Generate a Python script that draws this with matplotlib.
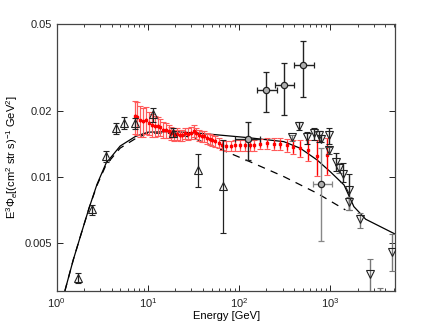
import matplotlib
matplotlib.use('Agg')
import matplotlib.pyplot as plt
import numpy as np
from matplotlib.ticker import FixedLocator, FixedFormatter, LogLocator, NullFormatter

plt.rcParams['font.family'] = ['Liberation Sans', 'DejaVu Sans']
plt.rcParams['mathtext.fontset'] = 'custom'
plt.rcParams['mathtext.rm'] = 'Liberation Sans'
plt.rcParams['mathtext.it'] = 'Liberation Sans:italic'
plt.rcParams['mathtext.bf'] = 'Liberation Sans:bold'

# red data (Fermi-like), energy [GeV], flux, relative errors (total / statistical)
red_e = [7.26, 7.70, 8.24, 8.81, 9.51, 10.35, 11.06, 11.84, 12.77, 13.67, 14.62, 15.77,
         16.87, 18.04, 19.47, 20.83, 22.28, 23.84, 25.72, 27.52, 29.44, 31.77, 33.98,
         36.35, 38.88, 41.59, 44.49, 47.60, 50.92, 54.94, 59.78, 65.04, 72.60, 81.70,
         91.17, 101.7, 117.4, 131.0, 147.3, 171.4, 203.0, 240.4, 284.7, 336.8, 391.7,
         471.8, 572.8, 719.5, 926.9]
red_f = [0.0191, 0.0189, 0.0182, 0.0180, 0.0183, 0.0178, 0.0174, 0.0171, 0.0172, 0.0169,
         0.0165, 0.0164, 0.0162, 0.0159, 0.0156, 0.0158, 0.0156, 0.0156, 0.0159, 0.0158,
         0.0160, 0.0163, 0.0159, 0.0156, 0.0154, 0.0154, 0.0151, 0.0149, 0.0148, 0.0146,
         0.0144, 0.0141, 0.0139, 0.0139, 0.0140, 0.0140, 0.0140, 0.0140, 0.0140, 0.0142,
         0.0143, 0.0142, 0.0142, 0.0140, 0.0138, 0.0136, 0.0133, 0.0125, 0.0127]
red_tot = [0.17, 0.17, 0.16, 0.15, 0.14, 0.12, 0.12, 0.11, 0.10, 0.09, 0.08, 0.08,
           0.07, 0.07, 0.06, 0.06, 0.06, 0.06, 0.06, 0.06, 0.06, 0.06, 0.06,
           0.06, 0.06, 0.06, 0.06, 0.06, 0.06, 0.055, 0.055, 0.055, 0.055, 0.055,
           0.055, 0.055, 0.055, 0.055, 0.055, 0.055, 0.06, 0.06, 0.06, 0.065, 0.07,
           0.09, 0.11, 0.19, 0.19]
red_stat = [0.02, 0.02, 0.02, 0.02, 0.02, 0.02, 0.02, 0.02, 0.02, 0.02, 0.02, 0.02,
            0.02, 0.02, 0.02, 0.02, 0.02, 0.02, 0.02, 0.02, 0.02, 0.02, 0.02,
            0.02, 0.02, 0.02, 0.02, 0.02, 0.02, 0.02, 0.02, 0.02, 0.02, 0.02,
            0.02, 0.025, 0.025, 0.03, 0.03, 0.035, 0.04, 0.04, 0.045, 0.05, 0.06,
            0.08, 0.10, 0.18, 0.18]

# open up-triangles
tri_e = [1.70, 2.42, 3.48, 4.45, 5.50, 7.26, 11.35, 19.1, 35.4, 67.3]
tri_f = [0.00348, 0.00714, 0.01253, 0.01686, 0.01766, 0.01766, 0.0194, 0.0160, 0.0108, 0.00914]
tri_hi = [0.00367, 0.00748, 0.01325, 0.01778, 0.01881, 0.0187, 0.02067, 0.01675, 0.01274, 0.01483]
tri_lo = [0.00330, 0.00674, 0.01180, 0.01578, 0.01658, 0.0167, 0.01797, 0.01524, 0.00908, 0.00560]

# circles with energy bins
circ_e = [124.5, 198, 315, 505, 796]
circ_f = [0.01493, 0.02507, 0.02642, 0.0326, 0.00929]
circ_hi = [0.0179, 0.0302, 0.0334, 0.0420, 0.01358]
circ_lo = [0.0120, 0.01995, 0.01928, 0.02322, 0.00513]
circ_elo = [91, 158, 251, 405, 650]
circ_ehi = [170, 262, 405, 662, 1035]
circ_col = ['#222222', '#222222', '#222222', '#222222', '#888888']

# open down-triangles
dn_e = [382, 460, 550, 662, 751, 796, 967, 967, 1145, 1245, 1377, 1629, 1629, 2100, 2705, 3515, 4720]
dn_f = [0.01525, 0.01718, 0.01525, 0.01589, 0.0156, 0.0150, 0.01564, 0.01333, 0.01172,
        0.01099, 0.01037, 0.00877, 0.00770, 0.00645, 0.00362, 0.0027, 0.00455]
dn_hi = [0.01562, 0.01785, 0.01617, 0.01675, 0.01629, 0.01562, 0.01687, 0.01382, 0.01297,
         0.0116, 0.0116, 0.01033, 0.00817, 0.00685, 0.00422, 0.00312, 0.0055]
dn_lo = [0.01471, 0.01646, 0.01421, 0.01482, 0.01456, 0.01456, 0.01421, 0.01279, 0.01074,
         0.01044, 0.00956, 0.0071, 0.0071, 0.00586, 0.0029, 0.0025, 0.00375]
dn_col = ['#777777', '#222222', '#222222', '#222222', '#222222', '#222222', '#222222', '#444444',
          '#222222', '#777777', '#222222', '#222222', '#777777', '#777777', '#777777', '#777777', '#777777']

# model curves
solid_e = [1.23, 1.52, 1.85, 2.28, 2.77, 3.48, 4.97, 7.26, 10, 19, 37.5, 124, 310, 470, 720,
           1000, 1420, 1820, 2450, 5200]
solid_f = [0.00303, 0.0042, 0.0055, 0.0073, 0.0093, 0.0116, 0.0139, 0.01535, 0.01608, 0.01619,
           0.01589, 0.01519, 0.01456, 0.01358, 0.0120, 0.01062, 0.00923, 0.00735, 0.00644, 0.0055]
dash_e = [1.23, 1.52, 1.85, 2.28, 2.77, 3.48, 4.97, 7.26, 10, 19, 31.8, 48.4, 124, 310, 720, 1470]
dash_f = [0.00303, 0.0042, 0.0055, 0.0073, 0.0092, 0.0114, 0.0136, 0.0150, 0.01592, 0.0159,
          0.0151, 0.01406, 0.01192, 0.01008, 0.00846, 0.0071]

fig = plt.figure(figsize=(4.36, 3.28), dpi=100)
ax = fig.add_axes([0.130, 0.113, 0.777, 0.813])
ax.set_xscale('log')
ax.set_yscale('log')

ax.plot(solid_e, solid_f, color='black', lw=0.9, zorder=2)
ax.plot(dash_e, dash_f, color='black', lw=0.9, ls=(0, (6, 5)), zorder=2)

re = np.array(red_e)
rf = np.array(red_f)
rt = np.array(red_tot) * rf
rs = np.array(red_stat) * rf
ax.errorbar(re, rf, yerr=rt, fmt='none', ecolor='#ff5a5a', elinewidth=0.9, capsize=2.3, capthick=0.8, zorder=3)
ax.errorbar(re, rf, yerr=rs, fmt='none', ecolor='red', elinewidth=0.9, capsize=0, zorder=4)
ax.plot(re, rf, 's', color='red', ms=1.8, zorder=5)

tf = np.array(tri_f)
ax.errorbar(tri_e, tri_f, yerr=[tf - np.array(tri_lo), np.array(tri_hi) - tf], fmt='^', mfc='none',
            mec='#222222', ecolor='#222222', ms=5.5, mew=0.8, elinewidth=0.9, capsize=2.0, capthick=0.8, zorder=6)

for i in range(len(circ_e)):
    ax.errorbar([circ_e[i]], [circ_f[i]],
                yerr=[[circ_f[i] - circ_lo[i]], [circ_hi[i] - circ_f[i]]],
                xerr=[[circ_e[i] - circ_elo[i]], [circ_ehi[i] - circ_e[i]]],
                fmt='o', mfc='#b0b0b0', mec='#222222', ecolor=circ_col[i], ms=4.5, mew=0.9,
                elinewidth=1.0, capsize=2.0, capthick=0.8, zorder=6)

for i in range(len(dn_e)):
    ax.errorbar([dn_e[i]], [dn_f[i]], yerr=[[dn_f[i] - dn_lo[i]], [dn_hi[i] - dn_f[i]]],
                fmt='v', mfc='none', mec='#222222', ecolor=dn_col[i], ms=5.5, mew=0.8,
                elinewidth=1.0, capsize=2.0, capthick=0.8, zorder=6)

ax.set_xlim(1, 5200)
ax.set_ylim(0.00303, 0.05)

ax.xaxis.set_major_locator(FixedLocator([1, 10, 100, 1000]))
ax.xaxis.set_major_formatter(FixedFormatter(['$10^0$', '$10^1$', '$10^2$', '$10^3$']))
ax.xaxis.set_minor_locator(LogLocator(base=10, subs=np.arange(2, 10), numticks=20))
ax.xaxis.set_minor_formatter(NullFormatter())
ax.yaxis.set_major_locator(FixedLocator([0.005, 0.01, 0.02, 0.05]))
ax.yaxis.set_major_formatter(FixedFormatter(['0.005', '0.01', '0.02', '0.05']))
ax.yaxis.set_minor_locator(FixedLocator([]))
ax.tick_params(which='both', direction='in', top=True, right=True, labelsize=8, colors='#222222')
ax.tick_params(which='major', length=4, width=0.7)
ax.tick_params(which='minor', length=2, width=0.6)
for s in ax.spines.values():
    s.set_linewidth(0.9)
    s.set_color('#444444')

ax.set_xlabel('Energy [GeV]', fontsize=8, labelpad=1)
ax.set_ylabel(r'E$^3\Phi_e$[(cm$^2$ str s)$^{-1}$ GeV$^2$]', fontsize=8, labelpad=3)

fig.savefig('out.png', dpi=100)
